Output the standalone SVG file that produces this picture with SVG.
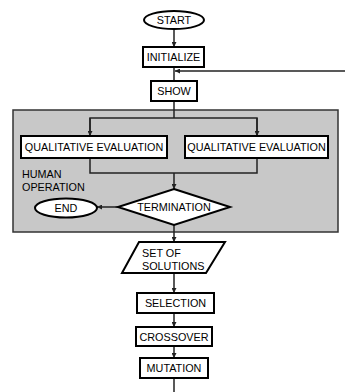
<svg xmlns="http://www.w3.org/2000/svg" width="345" height="392" viewBox="0 0 345 392">
<defs>
<style>
.box{fill:#fff;stroke:#000;stroke-width:2}
.ln{fill:none;stroke:#222;stroke-width:1.5}
.t{font-family:"Liberation Sans",Arial,sans-serif;font-size:10.8px;fill:#000}
.c{text-anchor:middle}
</style>
<marker id="ah" viewBox="0 0 10 10" refX="10" refY="5" markerWidth="5" markerHeight="5" markerUnits="userSpaceOnUse" orient="auto">
<path d="M0,0 L10,5 L0,10 z" fill="#222"/>
</marker>
</defs>
<rect id="human-operation" x="13" y="110" width="325" height="122" fill="#c8c8c8" stroke="#333" stroke-width="1.5"/>
<g id="connectors">
<line class="ln" x1="174" y1="29" x2="174" y2="47" marker-end="url(#ah)"/>
<line class="ln" x1="174" y1="67" x2="174" y2="81"/>
<line class="ln" x1="345" y1="71" x2="175" y2="71" marker-end="url(#ah)"/>
<line class="ln" x1="174" y1="101" x2="174" y2="118"/>
<polyline class="ln" points="90,136 90,118 257,118 257,136"/>
<line class="ln" x1="90" y1="118" x2="90" y2="136" marker-end="url(#ah)"/>
<line class="ln" x1="257" y1="118" x2="257" y2="136" marker-end="url(#ah)"/>
<polyline class="ln" points="90,158 90,173 257,173 257,158"/>
<line class="ln" x1="174" y1="173" x2="174" y2="189" marker-end="url(#ah)"/>
<line class="ln" x1="118" y1="207" x2="97" y2="207" marker-end="url(#ah)"/>
<line class="ln" x1="174" y1="225" x2="174" y2="242" marker-end="url(#ah)"/>
<line class="ln" x1="174" y1="273" x2="174" y2="293" marker-end="url(#ah)"/>
<line class="ln" x1="174" y1="313" x2="174" y2="327" marker-end="url(#ah)"/>
<line class="ln" x1="174" y1="346" x2="174" y2="358" marker-end="url(#ah)"/>
<line class="ln" x1="174" y1="378" x2="174" y2="392"/>
</g>
<g id="start"><ellipse class="box" cx="174" cy="20" rx="30" ry="9"/><text class="t c" x="174" y="24">START</text></g>
<g id="initialize"><rect class="box" x="143" y="47" width="61" height="20"/><text class="t c" x="173.5" y="61">INITIALIZE</text></g>
<g id="show"><rect class="box" x="151" y="81" width="46" height="20"/><text class="t c" x="174" y="95">SHOW</text></g>
<g id="qe-left"><rect class="box" x="21" y="136" width="146" height="22"/><text class="t c" x="94" y="151">QUALITATIVE EVALUATION</text></g>
<g id="qe-right"><rect class="box" x="185" y="136" width="143" height="22"/><text class="t c" x="256.5" y="151">QUALITATIVE EVALUATION</text></g>
<g id="label-human"><text class="t" x="22" y="178">HUMAN</text><text class="t" x="22" y="191">OPERATION</text></g>
<g id="termination"><polygon class="box" points="174,189 230,207 174,225 118,207"/><text class="t c" x="174" y="211">TERMINATION</text></g>
<g id="end"><ellipse class="box" cx="66" cy="208" rx="31" ry="9.5"/><text class="t c" x="66" y="212">END</text></g>
<g id="solutions"><polygon class="box" points="139,242 225,242 206,273 122,273"/><text class="t" x="142" y="257">SET OF</text><text class="t" x="142" y="270">SOLUTIONS</text></g>
<g id="selection"><rect class="box" x="137" y="293" width="77" height="20"/><text class="t c" x="175.5" y="307">SELECTION</text></g>
<g id="crossover"><rect class="box" x="136" y="327" width="76" height="19"/><text class="t c" x="174" y="340.5">CROSSOVER</text></g>
<g id="mutation"><rect class="box" x="140" y="358" width="68" height="20"/><text class="t c" x="174" y="372">MUTATION</text></g>
</svg>
